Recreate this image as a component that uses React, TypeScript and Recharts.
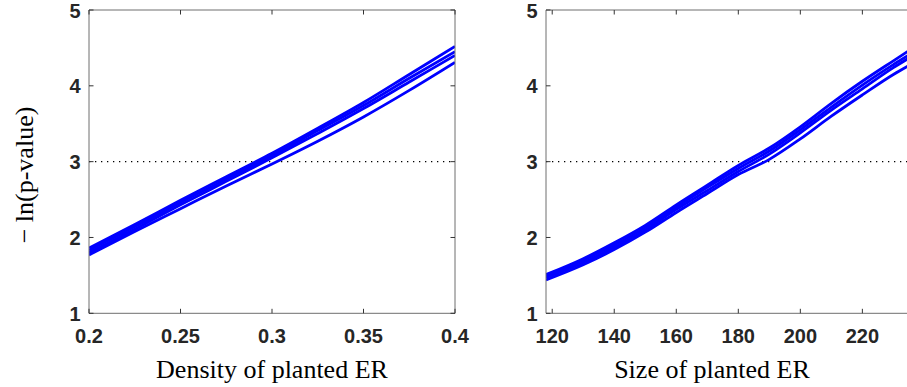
import React from 'react';
import { LineChart, Line, XAxis, YAxis, ReferenceLine } from 'recharts';

// left panel: density of planted ER
const densityX = [0.2, 0.225, 0.25, 0.275, 0.3, 0.325, 0.35, 0.375, 0.4];
const densityA = [1.86, 2.17, 2.49, 2.8, 3.11, 3.44, 3.78, 4.15, 4.52];
const densityB = [1.83, 2.14, 2.46, 2.77, 3.08, 3.41, 3.74, 4.1, 4.45];
const densityC = [1.8, 2.11, 2.43, 2.74, 3.05, 3.37, 3.7, 4.05, 4.4];
const densityD = [1.77, 2.08, 2.38, 2.68, 2.97, 3.27, 3.59, 3.94, 4.31];
const densityTicks = [0.2, 0.25, 0.3, 0.35, 0.4];

// right panel: size of planted ER
const sizeX = [118, 130, 140, 150, 160, 170, 180, 190, 200, 210, 220, 230, 236];
const sizeA = [1.51, 1.72, 1.93, 2.16, 2.43, 2.69, 2.95, 3.18, 3.46, 3.77, 4.06, 4.33, 4.49];
const sizeB = [1.49, 1.7, 1.9, 2.13, 2.4, 2.66, 2.91, 3.14, 3.42, 3.72, 4.01, 4.28, 4.43];
const sizeC = [1.47, 1.67, 1.87, 2.1, 2.37, 2.62, 2.87, 3.1, 3.38, 3.68, 3.96, 4.24, 4.39];
const sizeD = [1.44, 1.64, 1.84, 2.07, 2.33, 2.58, 2.83, 3.03, 3.3, 3.6, 3.88, 4.15, 4.29];
const sizeTicks = [120, 140, 160, 180, 200, 220];

const yTicks = [1, 2, 3, 4, 5];
const threshold = 3;

const toRows = (xs: number[], a: number[], b: number[], c: number[], d: number[]) =>
  xs.map((x, i) => ({ x, a: a[i], b: b[i], c: c[i], d: d[i] }));

const densityData = toRows(densityX, densityA, densityB, densityC, densityD);
const sizeData = toRows(sizeX, sizeA, sizeB, sizeC, sizeD);

const TICK_FONT = '"Liberation Sans", Arial, Helvetica, sans-serif';
const TITLE_FONT = '"Liberation Serif", "Times New Roman", serif';
const AXIS = '#6f6f6f';
const TICK = '#333';
const LABEL = '#262626';
const BLUE = '#0000ff';
const TL = 4.5;

const BottomTick = (p: any) => (
  <g>
    <line x1={p.x} x2={p.x} y1={p.y} y2={p.y - TL} stroke={TICK} />
    <text x={p.x} y={p.y + 30} textAnchor="middle" fontFamily={TICK_FONT} fontWeight="bold" fontSize={20} fill={LABEL}>
      {String(p.payload.value)}
    </text>
  </g>
);
const TopTick = (p: any) => <line x1={p.x} x2={p.x} y1={p.y} y2={p.y + TL} stroke={TICK} />;
const LeftTick = (p: any) => (
  <g>
    <line x1={p.x} x2={p.x + TL} y1={p.y} y2={p.y} stroke={TICK} />
    <text x={p.x - 8.5} y={p.y + 7.5} textAnchor="end" fontFamily={TICK_FONT} fontWeight="bold" fontSize={20} fill={LABEL}>
      {String(p.payload.value)}
    </text>
  </g>
);
const RightTick = (p: any) => <line x1={p.x} x2={p.x - TL} y1={p.y} y2={p.y} stroke={TICK} />;

// axes get a 1px box (0 would hide them); margins are trimmed to keep the plot at 89..455 x 10..313.3
function Panel({ data, domain, ticks }: { data: any[]; domain: [number, number]; ticks: number[] }) {
  return (
    <LineChart width={470} height={387} data={data} margin={{ top: 9, right: 14, bottom: 72.7, left: 88 }}>
      <XAxis dataKey="x" type="number" domain={domain} ticks={ticks} interval={0} height={1}
        tickSize={0} tickMargin={0} tickLine={false} tick={BottomTick} axisLine={{ stroke: AXIS }} allowDataOverflow />
      <XAxis xAxisId="top" orientation="top" dataKey="x" type="number" domain={domain} ticks={ticks} interval={0} height={1}
        tickSize={0} tickMargin={0} tickLine={false} tick={TopTick} axisLine={{ stroke: AXIS }} allowDataOverflow />
      <YAxis type="number" domain={[1, 5]} ticks={yTicks} interval={0} width={1}
        tickSize={0} tickMargin={0} tickLine={false} tick={LeftTick} axisLine={{ stroke: AXIS }} allowDataOverflow />
      <YAxis yAxisId="right" orientation="right" type="number" domain={[1, 5]} ticks={yTicks} interval={0} width={1}
        tickSize={0} tickMargin={0} tickLine={false} tick={RightTick} axisLine={{ stroke: AXIS }} allowDataOverflow />
      <ReferenceLine y={threshold} stroke="#000" strokeWidth={1.3} strokeDasharray="1.3 4.7" />
      {['a', 'b', 'c', 'd'].map((k) => (
        <Line key={k} type="monotone" dataKey={k} stroke={BLUE} strokeWidth={2.8} dot={false} activeDot={false} isAnimationActive={false} />
      ))}
    </LineChart>
  );
}

export default function App() {
  return (
    <div style={{ position: 'absolute', left: 0, top: 0, width: 907, height: 387, overflow: 'hidden', background: '#fff' }}>
      <div style={{ position: 'absolute', left: 0, top: 0 }}>
        <Panel data={densityData} domain={[0.2, 0.4]} ticks={densityTicks} />
      </div>
      <div style={{ position: 'absolute', left: 457, top: 0 }}>
        <Panel data={sizeData} domain={[118, 236]} ticks={sizeTicks} />
      </div>
      <svg width={907} height={387} style={{ position: 'absolute', left: 0, top: 0, pointerEvents: 'none' }}>
        <text x={272} y={378} textAnchor="middle" fontFamily={TITLE_FONT} fontSize={26} fill="#000">Density of planted ER</text>
        <text x={712} y={378} textAnchor="middle" fontFamily={TITLE_FONT} fontSize={26} fill="#000">Size of planted ER</text>
        <text transform="translate(33,175) rotate(-90)" textAnchor="middle" fontFamily={TITLE_FONT} fontSize={26} fill="#000">− ln(p-value)</text>
      </svg>
    </div>
  );
}
